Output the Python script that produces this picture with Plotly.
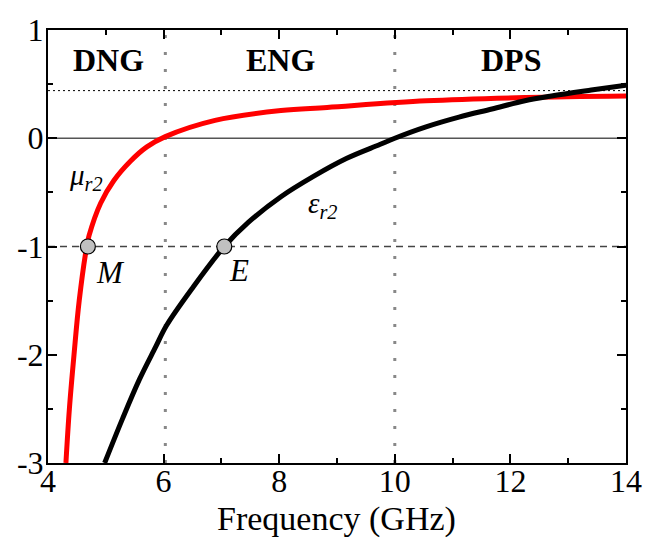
import plotly.graph_objects as go

# ---- data ----
mu_freq = [4.31, 4.37, 4.45, 4.54, 4.67, 4.71, 4.91, 5.14, 5.43, 5.71, 6.03, 6.89, 8.03, 8.83, 10.54, 12.25, 14.0]
mu_val = [-3.0, -2.5, -2.0, -1.5, -1.0, -0.9, -0.6, -0.39, -0.21, -0.08, 0.015, 0.165, 0.256, 0.285, 0.346, 0.376, 0.39]

eps_freq = [4.98, 5.29, 5.58, 5.86, 6.05, 6.49, 7.05, 7.46, 8.03, 8.6, 9.17, 9.74, 10.0, 10.54, 11.11, 11.68, 12.25, 12.71, 13.4, 14.0]
eps_val = [-3.0, -2.59, -2.23, -1.93, -1.73, -1.39, -1.0, -0.78, -0.54, -0.35, -0.185, -0.058, 0.0, 0.105, 0.195, 0.27, 0.346, 0.39, 0.445, 0.49]

point_labels = ["M", "E"]
point_freq = [4.69, 7.05]
point_val = [-1.0, -1.0]

region_labels = ["DNG", "ENG", "DPS"]
region_centers = [5.04, 8.02, 12.01]
region_label_level = 0.72

boundary_freqs = [6.03, 10.0]
dashed_level = -1.0
dotted_level = 0.44
zero_level = 0.0

x_tickvals = [4, 6, 8, 10, 12, 14]
x_ticktext = ["4", "6", "8", "10", "12", "14"]
y_tickvals = [-3, -2, -1, 0, 1]
y_ticktext = ["-3", "-2", "-1", "0", "1"]
x_title = "Frequency (GHz)"

x_range = [4, 14]
y_range = [-3, 1]

FONT = "Liberation Serif, Times New Roman, Times, serif"

fig = go.Figure()

fig.add_trace(go.Scatter(x=mu_freq, y=mu_val, mode="lines",
                         line=dict(color="#ff0000", width=5, shape="spline", smoothing=1.0),
                         showlegend=False, hoverinfo="skip"))
fig.add_trace(go.Scatter(x=eps_freq, y=eps_val, mode="lines",
                         line=dict(color="#000000", width=5, shape="spline", smoothing=1.0),
                         showlegend=False, hoverinfo="skip"))
fig.add_trace(go.Scatter(x=point_freq, y=point_val, mode="markers",
                         marker=dict(size=15, color="#c0c0c0", line=dict(color="#000000", width=1.2)),
                         showlegend=False, hoverinfo="skip"))

shapes = []
for bf in boundary_freqs:
    shapes.append(dict(type="line", xref="x", yref="paper", x0=bf, x1=bf, y0=0, y1=1,
                       line=dict(color="#888888", width=3, dash="3px,14px"), layer="below"))
shapes.append(dict(type="line", xref="paper", yref="y", x0=0, x1=1, y0=dashed_level, y1=dashed_level,
                   line=dict(color="#444444", width=1.5, dash="7px,5px"), layer="below"))
shapes.append(dict(type="line", xref="paper", yref="y", x0=0, x1=1, y0=dotted_level, y1=dotted_level,
                   line=dict(color="#000000", width=1, dash="2px,3px"), layer="below"))
shapes.append(dict(type="line", xref="paper", yref="y", x0=0, x1=1, y0=zero_level, y1=zero_level,
                   line=dict(color="#555555", width=1.5), layer="below"))

annotations = []
for lab, xc in zip(region_labels, region_centers):
    annotations.append(dict(x=xc, y=region_label_level, xref="x", yref="y", text="<b>" + lab + "</b>",
                            showarrow=False, font=dict(family=FONT, size=32, color="black"),
                            xanchor="center", yanchor="middle"))
annotations.append(dict(x=4.33, y=-0.36, xref="x", yref="y",
                        text="<i>μ</i><sub><i>r2</i></sub>", showarrow=False,
                        font=dict(family=FONT, size=29, color="black"), xanchor="left", yanchor="middle"))
annotations.append(dict(x=8.47, y=-0.62, xref="x", yref="y",
                        text="<i>ε</i><sub><i>r2</i></sub>", showarrow=False,
                        font=dict(family=FONT, size=29, color="black"), xanchor="left", yanchor="middle"))
annotations.append(dict(x=5.08, y=-1.24, xref="x", yref="y", text="<i>M</i>", showarrow=False,
                        font=dict(family=FONT, size=31, color="black"), xanchor="center", yanchor="middle"))
annotations.append(dict(x=7.30, y=-1.22, xref="x", yref="y", text="<i>E</i>", showarrow=False,
                        font=dict(family=FONT, size=31, color="black"), xanchor="center", yanchor="middle"))
annotations.append(dict(x=0.499, y=-0.13, xref="paper", yref="paper", text=x_title, showarrow=False,
                        font=dict(family=FONT, size=34, color="black"), xanchor="center", yanchor="middle"))

fig.update_layout(
    width=654, height=542,
    margin=dict(l=48, r=22, t=24, b=79),
    paper_bgcolor="white", plot_bgcolor="white",
    font=dict(family=FONT, color="black", size=30),
    shapes=shapes, annotations=annotations,
    xaxis=dict(range=x_range, tickvals=x_tickvals, ticktext=x_ticktext,
               ticks="inside", ticklen=9, tickwidth=1.5, tickcolor="black",
               minor=dict(ticks="inside", ticklen=5, tickwidth=1.5, tickcolor="black", dtick=1, tick0=4),
               showline=True, linecolor="black", linewidth=2, mirror="ticks",
               showgrid=False, zeroline=False, ticklabelstandoff=-11,
               tickfont=dict(family=FONT, size=32, color="black")),
    yaxis=dict(range=y_range, tickvals=y_tickvals, ticktext=y_ticktext,
               ticks="inside", ticklen=9, tickwidth=1.5, tickcolor="black",
               minor=dict(ticks="inside", ticklen=5, tickwidth=1.5, tickcolor="black", dtick=0.5, tick0=0),
               showline=True, linecolor="black", linewidth=2, mirror="ticks",
               showgrid=False, zeroline=False, ticklabelstandoff=-4,
               tickfont=dict(family=FONT, size=32, color="black")),
)

fig.write_html("out.html")
